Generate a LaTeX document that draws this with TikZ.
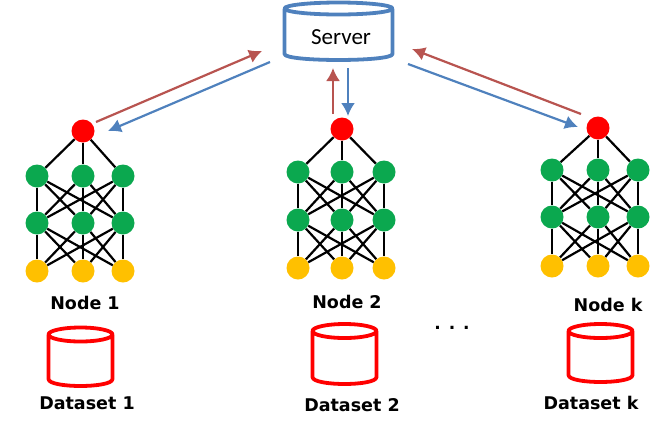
\documentclass[tikz,border=0pt]{standalone}
\usepackage{fontspec}
\setmainfont{DejaVu Sans}
\newfontfamily\serverfont{Carlito}
\usetikzlibrary{arrows.meta,positioning}
\definecolor{netgreen}{HTML}{0BA84F}
\definecolor{netyellow}{HTML}{FFC000}
\definecolor{upred}{HTML}{B85450}
\definecolor{downblue}{HTML}{4F81BD}
\tikzstyle{neuron}=[
	circle,
	inner sep=0,
	minimum size=23]
\tikzstyle{caption}=[
	font=\fontsize{17.5}{19}\selectfont\bfseries,
	inner sep=0]
\tikzstyle{link}=[line width=2.2,black]
\tikzstyle{up}=[line width=2.2,upred,-{Latex[length=13,width=14]}]
\tikzstyle{down}=[line width=2.2,downblue,-{Latex[length=13,width=14]}]
% one network: name, three columns, four rows
\newcommand{\mlpnet}[8]{
	\node[neuron,fill=red] (#1t) at (#3,#5) {};
	\node[neuron,fill=netgreen] (#1a1) at (#2,#6) {};
	\node[neuron,fill=netgreen] (#1a2) at (#3,#6) {};
	\node[neuron,fill=netgreen] (#1a3) at (#4,#6) {};
	\node[neuron,fill=netgreen] (#1b1) at (#2,#7) {};
	\node[neuron,fill=netgreen] (#1b2) at (#3,#7) {};
	\node[neuron,fill=netgreen] (#1b3) at (#4,#7) {};
	\node[neuron,fill=netyellow] (#1c1) at (#2,#8) {};
	\node[neuron,fill=netyellow] (#1c2) at (#3,#8) {};
	\node[neuron,fill=netyellow] (#1c3) at (#4,#8) {};
	\foreach \i in {1,2,3} {
		\draw[link] (#1t) -- (#1a\i);
		\foreach \j in {1,2,3} {
			\draw[link] (#1a\i) -- (#1b\j);
			\draw[link] (#1b\i) -- (#1c\j);
		}
	}
}
% one drum: colour, centre x, half width, top ellipse y, side end y, ellipse radius
\newcommand{\drumshape}[6]{
	\draw[#1,line width=3.8,line join=round]
		(#2,#4) ellipse [x radius=#3,y radius=#6]
		(#2-#3,#4) -- (#2-#3,#5)
		.. controls (#2-#3,#5+1.33*#6) and (#2+#3,#5+1.33*#6) .. (#2+#3,#5)
		-- (#2+#3,#4);
}
\begin{document}
\begin{tikzpicture}[x=1pt,y=-1pt]
	\useasboundingbox (0,0) rectangle (650,421);
	\drumshape{downblue}{338.5}{54}{8.5}{54}{6}
	\node[font=\serverfont\fontsize{23}{25}\selectfont,inner sep=0] (server) at (341,37) {Server};

	\mlpnet{p}{37}{83}{123}{131}{176}{223}{271}
	\mlpnet{q}{298}{342}{384}{129}{172}{220}{268}
	\mlpnet{r}{552}{598}{638}{128}{170}{217}{266}

	\node[caption] (node1) at (85,303) {Node 1};
	\node[caption] (node2) at (347,302) {Node 2};
	\node[caption] (nodek) at (608,305) {Node k};

	\drumshape{red}{80.5}{32}{334.5}{379}{7}
	\drumshape{red}{344.5}{32}{331}{377}{7}
	\drumshape{red}{600.5}{32}{331}{375}{7}

	\node[caption] (set1) at (87,403) {Dataset 1};
	\node[caption] (set2) at (352,405) {Dataset 2};
	\node[caption] (setk) at (591,403) {Dataset k};
	\node[font=\fontsize{17}{19}\selectfont\bfseries,inner sep=0] (dots) at (452,328) {. . .};

	% free ends of the arrows
	\coordinate (pup) at (96,122);
	\coordinate (sup1) at (262,51);
	\coordinate (sdown1) at (270,62);
	\coordinate (pdown) at (108,131);
	\coordinate (qup) at (333,114);
	\coordinate (sup2) at (333,68);
	\coordinate (sdown2) at (348,68);
	\coordinate (qdown) at (348,116);
	\coordinate (rup) at (581,114);
	\coordinate (sup3) at (412,49);
	\coordinate (sdown3) at (408,64);
	\coordinate (rdown) at (578,127);

	\draw[up] (pup) -- (sup1);
	\draw[down] (sdown1) -- (pdown);
	\draw[up] (qup) -- (sup2);
	\draw[down] (sdown2) -- (qdown);
	\draw[up] (rup) -- (sup3);
	\draw[down] (sdown3) -- (rdown);
\end{tikzpicture}
\end{document}
